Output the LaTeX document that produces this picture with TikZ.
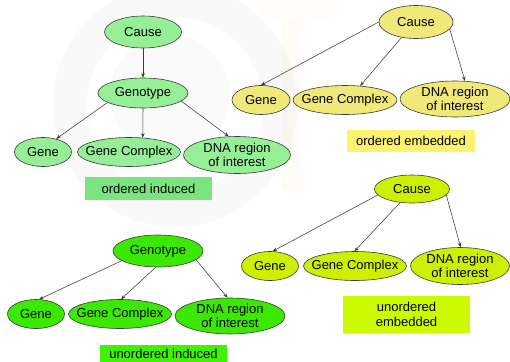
\documentclass[tikz,border=0pt]{standalone}
\usepackage{fontspec}
\setmainfont{Liberation Sans}
\usetikzlibrary{shapes.geometric,arrows.meta}

\definecolor{paleGreen}{RGB}{150,238,150}
\definecolor{paleGreenLab}{RGB}{122,228,128}
\definecolor{khaki}{RGB}{240,232,120}
\definecolor{khakiLab}{RGB}{252,242,110}
\definecolor{brightGreen}{RGB}{58,232,0}
\definecolor{brightGreenLab}{RGB}{62,242,0}
\definecolor{limeGreen}{RGB}{204,240,0}
\definecolor{limeGreenLab}{RGB}{206,250,0}
\definecolor{edgeGray}{RGB}{60,60,60}

\tikzset{
  oval/.style={ellipse, draw=edgeGray, line width=0.6pt, inner sep=0pt},
  caption/.style={font=\fontsize{13}{14}\selectfont, align=center, inner sep=0pt},
  tag/.style={rectangle, inner sep=0pt, font=\fontsize{13}{15}\selectfont, align=center},
  link/.style={draw=edgeGray, line width=0.55pt, -{Stealth[length=4.5pt,width=3.5pt]}},
}

\begin{document}
\begin{tikzpicture}[x=1pt,y=-1pt]
\useasboundingbox (0,0) rectangle (510,361);
\fill[white] (0,0) rectangle (510,361);

% faint background logo
\begin{scope}
  \fill[black,opacity=0.025,even odd rule] (175,105) circle[radius=122] (175,105) circle[radius=88];
  \fill[black,opacity=0.018] (170,95) circle[radius=60];
  \fill[orange,opacity=0.03] (282,20) rectangle (300,190);
  \fill[orange,opacity=0.025] (260,0) rectangle (330,18);
\end{scope}

% ordered induced
\node[oval, fill=paleGreen, minimum width=77pt, minimum height=32pt] (c1) at (143,32) {};
\node[oval, fill=paleGreen, minimum width=90pt, minimum height=30pt] (t1) at (143,93) {};
\node[oval, fill=paleGreen, minimum width=57pt, minimum height=29pt] (g1) at (43,152) {};
\node[oval, fill=paleGreen, minimum width=103pt, minimum height=29pt] (x1) at (129,152) {};
\node[oval, fill=paleGreen, minimum width=107pt, minimum height=37pt] (d1) at (237,155) {};
\node[caption] at (c1) {Cause};
\node[caption] at (t1) {Genotype};
\node[caption] at (g1) {Gene};
\node[caption] at (x1) {Gene Complex};
\node[caption] at (d1) {DNA region\\of interest};
\node[tag, fill=paleGreenLab, minimum width=127pt, minimum height=23pt] (l1) at (148.5,188.5) {ordered induced};
\draw[link] (c1.south) -- (t1.north);
\draw[link] (t1.195) -- (g1.45);
\draw[link] (t1.south) -- (x1.46);
\draw[link] (t1.-12) -- (d1.114);

% ordered embedded
\node[oval, fill=khaki, minimum width=74pt, minimum height=33pt] (c2) at (416,22) {};
\node[oval, fill=khaki, minimum width=58pt, minimum height=29pt] (g2) at (261,100) {};
\node[oval, fill=khaki, minimum width=104pt, minimum height=29pt] (x2) at (345,100) {};
\node[oval, fill=khaki, minimum width=110pt, minimum height=36pt] (d2) at (455,99) {};
\node[caption] at (c2) {Cause};
\node[caption] at (g2) {Gene};
\node[caption] at (x2) {Gene Complex};
\node[caption] at (d2) {DNA region\\of interest};
\node[tag, fill=khakiLab, minimum width=128pt, minimum height=22pt] (l2) at (411,141) {ordered embedded};
\draw[link] (c2.180) -- (g2.north);
\draw[link] (c2.227) -- (x2.43);
\draw[link] (c2.-12) -- (d2.61);

% unordered induced
\node[oval, fill=brightGreen, minimum width=90pt, minimum height=32pt] (t3) at (158,251) {};
\node[oval, fill=brightGreen, minimum width=57pt, minimum height=29pt] (g3) at (36,314) {};
\node[oval, fill=brightGreen, minimum width=103pt, minimum height=29pt] (x3) at (120,314) {};
\node[oval, fill=brightGreen, minimum width=110pt, minimum height=36pt] (d3) at (230,316) {};
\node[caption] at (t3) {Genotype};
\node[caption] at (g3) {Gene};
\node[caption] at (x3) {Gene Complex};
\node[caption] at (d3) {DNA region\\of interest};
\fill[brightGreenLab] (100,345) rectangle (227,368);
\node[caption] (l3) at (163.5,354) {unordered induced};
\draw[link] (t3.195) -- (g3.78);
\draw[link] (t3.262) -- (x3.86);
\draw[link] (t3.-13) -- (d3.98);

% unordered embedded
\node[oval, fill=limeGreen, minimum width=75pt, minimum height=28pt] (c4) at (412,189) {};
\node[oval, fill=limeGreen, minimum width=57pt, minimum height=29pt] (g4) at (270,266) {};
\node[oval, fill=limeGreen, minimum width=103pt, minimum height=29pt] (x4) at (355,266) {};
\node[oval, fill=limeGreen, minimum width=99pt, minimum height=37pt] (d4) at (460,266) {};
\node[caption] at (c4) {Cause};
\node[caption] at (g4) {Gene};
\node[caption] at (x4) {Gene Complex};
\node[caption] at (d4) {DNA region\\of interest};
\node[tag, fill=limeGreenLab, minimum width=127pt, minimum height=37pt] (l4) at (406.5,314.5) {unordered\\embedded};
\draw[link] (c4.190) -- (g4.80);
\draw[link] (c4.229) -- (x4.92);
\draw[link] (c4.-10) -- (d4.88);
\end{tikzpicture}
\end{document}
